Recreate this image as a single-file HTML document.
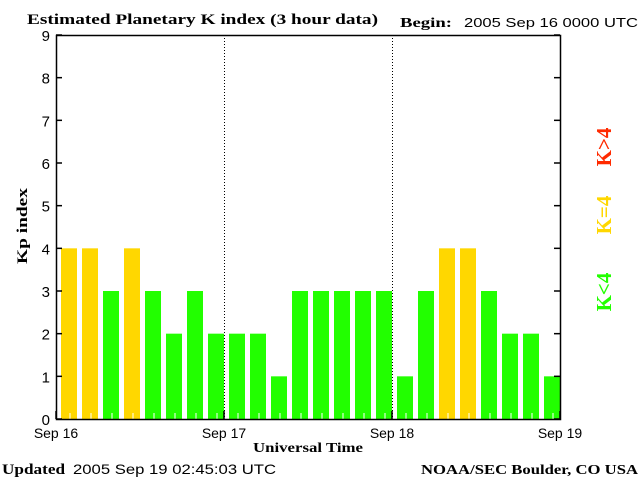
<!DOCTYPE html>
<html><head><meta charset="utf-8"><style>
body{margin:0;background:#fff;}
svg{display:block;}
.serif{font-family:"Liberation Serif",serif;font-weight:bold;}
.sans{font-family:"Liberation Sans",sans-serif;}
</style></head><body>
<svg id="chart" width="640" height="480" viewBox="0 0 640 480" xmlns="http://www.w3.org/2000/svg">
<text class="serif" x="27" y="24" font-size="15" textLength="351" lengthAdjust="spacingAndGlyphs">Estimated Planetary K index (3 hour data)</text>
<text class="serif" x="400" y="27" font-size="14" textLength="52" lengthAdjust="spacingAndGlyphs">Begin:</text>
<text class="sans" x="464" y="27" font-size="13" textLength="174" lengthAdjust="spacingAndGlyphs">2005 Sep 16 0000 UTC</text>
<text class="serif" font-size="15" transform="translate(27,226) rotate(-90)" text-anchor="middle" textLength="76" lengthAdjust="spacingAndGlyphs">Kp index</text>
<text class="serif" x="308" y="452" font-size="14" text-anchor="middle" textLength="110" lengthAdjust="spacingAndGlyphs">Universal Time</text>
<text class="serif" x="2" y="474" font-size="15" textLength="63" lengthAdjust="spacingAndGlyphs">Updated</text>
<text class="sans" x="73" y="474" font-size="14" textLength="203" lengthAdjust="spacingAndGlyphs">2005 Sep 19 02:45:03 UTC</text>
<text class="serif" x="421" y="474" font-size="14" textLength="217" lengthAdjust="spacingAndGlyphs">NOAA/SEC Boulder, CO USA</text>
<text class="serif" font-size="21" fill="#ff2a00" transform="translate(611,147) rotate(-90)" text-anchor="middle">K&gt;4</text>
<text class="serif" font-size="21" fill="#ffd700" transform="translate(611,215) rotate(-90)" text-anchor="middle">K=4</text>
<text class="serif" font-size="21" fill="#22ff00" transform="translate(611,292) rotate(-90)" text-anchor="middle">K&lt;4</text>
<g id="bars"></g>
<g id="axes"></g>
</svg>
<script>
const kpValues = [4,4,3,4,3,2,3,2, 2,2,1,3,3,3,3,3, 1,3,4,4,3,2,2,1];
const dayLabels = ["Sep 16","Sep 17","Sep 18","Sep 19"];
const yTicks = [0,1,2,3,4,5,6,7,8,9];

const NS="http://www.w3.org/2000/svg";
const L=56,R=560,T=35,B=419;
const yMax=9;
const y=v=>B-(B-T)*v/yMax;
const slot=(R-L)/kpValues.length;
const x=i=>L+slot*i;
function mk(tag,attrs,parent){const e=document.createElementNS(NS,tag);for(const k in attrs)e.setAttribute(k,attrs[k]);parent.appendChild(e);return e;}
const bars=document.getElementById('bars'), axes=document.getElementById('axes');
kpValues.forEach((v,i)=>{
  const col=v>4?'#ff2a00':(v===4?'#ffd700':'#22ff00');
  const r=mk('rect',{x:x(i)+5,y:y(v),width:16,height:B-y(v),fill:col},bars);
  
  
  const t=mk('line',{x1:x(i)+14,x2:x(i)+14,y1:B,y2:B-6,stroke:'#fff','stroke-width':1},bars);
  
  
});
for(let d=1;d<dayLabels.length-1;d++){
  const xx=L+(R-L)*d/(dayLabels.length-1)+0.5;
  const l=mk('line',{x1:xx,x2:xx,y1:T,y2:B,stroke:'#000','stroke-dasharray':'1,2'},axes);
  
  
}
const frame=mk('rect',{x:L+0.5,y:T+0.5,width:R-L,height:B-T,fill:'none',stroke:'#000','stroke-width':1.5},axes);


yTicks.forEach(v=>{
  const yy=y(v);
  mk('line',{x1:L,x2:L+6,y1:yy,y2:yy,stroke:'#000','stroke-width':1.5},axes);
  mk('line',{x1:R-6,x2:R,y1:yy,y2:yy,stroke:'#000','stroke-width':1.5},axes);
  const t=mk('text',{x:L-6,y:yy+6,'font-size':15,'text-anchor':'end','font-family':'Liberation Sans, sans-serif'},axes);
  t.textContent=v;
  
  
});
dayLabels.forEach((d,i)=>{
  const xx=L+(R-L)*i/(dayLabels.length-1);
  mk('line',{x1:xx,x2:xx,y1:B,y2:B-8,stroke:'#000','stroke-width':1.5},axes);
  const t=mk('text',{x:xx,y:438,'font-size':14,'text-anchor':'middle','font-family':'Liberation Sans, sans-serif'},axes);
  t.textContent=d;
  
  
});
</script>
</body></html>
